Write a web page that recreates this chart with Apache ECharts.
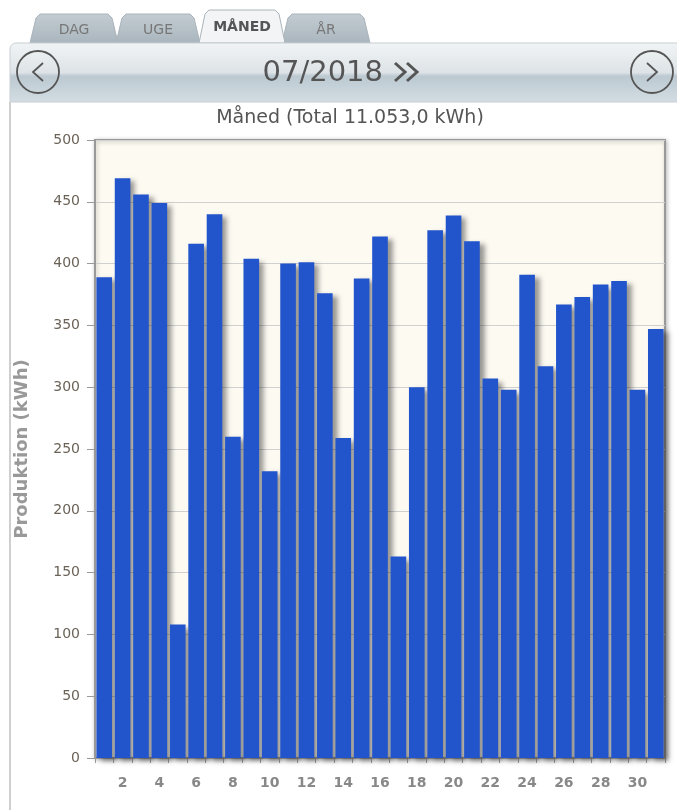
<!DOCTYPE html>
<html>
<head>
<meta charset="utf-8">
<script src="https://cdn.jsdelivr.net/npm/echarts@6/dist/echarts.min.js"></script>
<style>html,body{margin:0;padding:0;background:#fff;}#c{width:677px;height:810px;}</style>
</head>
<body>
<div id="c"></div>
<script>
const days = Array.from({length:31},(_,i)=>String(i+1));
const production = [389,469,456,449,108,416,440,260,404,232,400,401,376,259,388,422,163,300,427,439,418,307,298,391,317,367,373,383,386,298,347];
const yTicks = [0,50,100,150,200,250,300,350,400,450,500];
const titleText = 'Måned (Total 11.053,0 kWh)';
const periodText = '07/2018';
const tabs = ['DAG','UGE','MÅNED','ÅR'];

const chart = echarts.init(document.getElementById('c'), null, {renderer:'canvas'});
const font = 'Tahoma, "DejaVu Sans", Verdana, sans-serif';

function tab(x0, top, x1, label, active){
  return [{
    type:'polygon', z:1,
    shape:{points:[[x0,43],[x0+6,top+4],[x0+10,top],[x1-10,top],[x1-6,top+4],[x1,43]]},
    style:{fill: active ? '#f2f4f5' : new echarts.graphic.LinearGradient(0,0,0,1,[{offset:0,color:'#c3ccd2'},{offset:1,color:'#a9b5bd'}]), stroke:'#aab4bb', lineWidth:1}
  },{
    type:'text', z:2, x:(x0+x1)/2, y: active ? 27 : 30,
    style:{text:label, fill: active ? '#555' : '#777', font:(active?'bold ':'')+'14px '+font, align:'center', verticalAlign:'middle'}
  }];
}

const graphics = [].concat(
  tab(30,14,118,tabs[0],false),
  tab(116,14,200,tabs[1],false),
  tab(282,14,370,tabs[3],false),
  tab(199,10,285,tabs[2],true),
  [{
    type:'rect', z:3, shape:{x:10,y:43,width:680,height:59,r:[6,0,0,0]},
    style:{fill:new echarts.graphic.LinearGradient(0,0,0,1,[
      {offset:0,color:'#f1f4f5'},{offset:0.5,color:'#dde3e7'},{offset:0.56,color:'#bcc9d1'},{offset:1,color:'#d3dde3'}]),
      stroke:'#c8cfd4', lineWidth:1}
  },{
    type:'circle', z:4, shape:{cx:38,cy:72,r:21}, style:{fill:'none', stroke:'#555', lineWidth:1.8}
  },{
    type:'polyline', z:4, shape:{points:[[43,63],[33,72],[43,81]]}, style:{stroke:'#555', lineWidth:1.8, fill:'none'}
  },{
    type:'circle', z:4, shape:{cx:652,cy:72,r:21}, style:{fill:'none', stroke:'#555', lineWidth:1.8}
  },{
    type:'polyline', z:4, shape:{points:[[647,63],[657,72],[647,81]]}, style:{stroke:'#555', lineWidth:1.8, fill:'none'}
  },{
    type:'text', z:4, x:383, y:73,
    style:{text:periodText, fill:'#555', font:'29px '+font, align:'right', verticalAlign:'middle'}
  },{
    type:'polyline', z:4, shape:{points:[[395,63],[405,72],[395,81]]}, style:{stroke:'#555', lineWidth:3, fill:'none'}
  },{
    type:'polyline', z:4, shape:{points:[[407,63],[417,72],[407,81]]}, style:{stroke:'#555', lineWidth:3, fill:'none'}
  },{
    type:'line', z:3, shape:{x1:10,y1:102,x2:10,y2:810}, style:{stroke:'#cfcfcf', lineWidth:2}
  }]
);

chart.setOption({
  backgroundColor:'#fff',
  animation:false,
  title:{text:titleText, left:345, textAlign:'center', top:104,
    textStyle:{color:'#555', fontSize:19, fontWeight:'normal', fontFamily:font}},
  graphic: graphics,
  grid:{left:95, right:12, top:140, bottom:52, show:true, backgroundColor:'#fdfaf2', borderColor:'#999', borderWidth:2,
    shadowColor:'rgba(0,0,0,0.25)', shadowBlur:4, shadowOffsetX:1, shadowOffsetY:1},
  xAxis:{type:'category', data:days,
    axisLine:{show:true, lineStyle:{color:'#999', width:2}},
    axisTick:{show:true, interval:0, length:5, lineStyle:{color:'#999'}},
    axisLabel:{interval:(i)=>i%2===1, color:'#888', fontSize:14, fontWeight:'bold', fontFamily:font, margin:18},
    splitLine:{show:false}},
  yAxis:{type:'value', min:0, max:500, interval:50,
    name:'Produktion (kWh)', nameLocation:'middle', nameGap:64,
    nameTextStyle:{color:'#999', fontSize:18, fontWeight:'bold', fontFamily:font},
    axisLine:{show:true, lineStyle:{color:'#999', width:2}},
    axisTick:{show:true, length:8, lineStyle:{color:'#999'}},
    axisLabel:{color:'#6b6358', fontSize:14, fontFamily:font, margin:15,
      formatter:(v)=> yTicks.includes(v) ? String(v) : ''},
    splitLine:{show:true, lineStyle:{color:'#d0d0d0', width:1}}},
  series:[{
    type:'bar', data:production, barCategoryGap:'15%',
    itemStyle:{color:'#2255cc', shadowColor:'rgba(0,0,0,0.4)', shadowBlur:5, shadowOffsetX:5, shadowOffsetY:3}
  }]
});
</script>
</body>
</html>
